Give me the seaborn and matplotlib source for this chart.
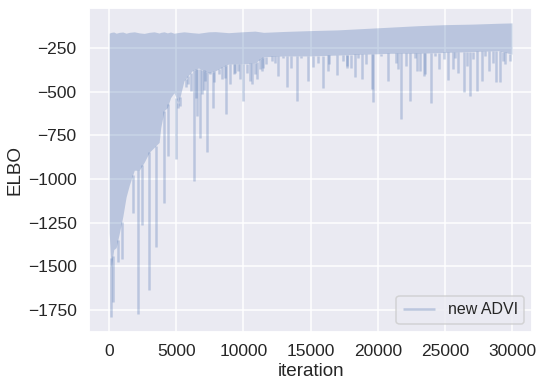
import numpy as np
import pandas as pd
import matplotlib
matplotlib.use("Agg")
import matplotlib.pyplot as plt
import seaborn as sns

# dense part of the ELBO trace: upper edge and lower edge of the solid band
band_iter = [0, 140, 340, 520, 760, 1010, 1260, 1500, 1870, 2240, 2610, 2980, 3350,
             3720, 3840, 4090, 4330, 4570, 4830, 5150, 5570, 6180, 6650, 7410, 7910,
             8890, 9880, 10860, 11500, 13000, 15000, 17000, 19000, 21000, 23000,
             25000, 27000, 29000, 30000]
band_low = [-1307, -1506, -1403, -1392, -1307, -1216, -1102, -1034, -949, -949, -903,
            -847, -818, -790, -705, -608, -591, -534, -506, -568, -438, -380, -364,
            -392, -380, -341, -341, -335, -300, -295, -295, -290, -285, -280, -280,
            -275, -270, -265, -285]
band_high = [-165, -160, -158, -165, -160, -158, -165, -160, -157, -163, -166, -160,
             -157, -164, -160, -157, -163, -158, -165, -161, -157, -162, -165, -157,
             -156, -162, -157, -153, -160, -155, -150, -146, -138, -130, -122, -116,
             -113, -108, -106]

# downward spikes of the trace
spike_iter = [100, 270, 640, 930, 1740, 2110, 2460, 2980, 3470, 4090, 4410, 4970,
              5120, 5270, 5690, 5870, 6060, 6300, 6430, 6550, 6750, 6920, 7040, 7170,
              7270, 7540, 7710, 7780, 8150, 8400, 8650, 8720, 9010, 9260, 9380, 9620,
              9750, 10000, 10250, 10490, 10660, 10860, 10990, 11230, 11400, 11480,
              11700, 12100, 12340, 12580, 12960, 13250, 13570, 14010, 14310, 14800,
              15200, 15540, 15900, 16300, 16400, 17000, 17390, 17690, 17700, 18000,
              18320, 18500, 18820, 19120, 19600, 19680, 20230, 20790, 21330, 21500,
              21730, 22070, 22440, 22810, 22900, 23180, 23420, 23550, 23960, 24290,
              24600, 24900, 25270, 25600, 25770, 26000, 26420, 26630, 26870, 27120,
              27390, 27730, 27990, 28270, 28600, 28840, 29090, 29340, 29500, 29830]
spike_elbo = [-1790, -1705, -1477, -1455, -1193, -1773, -1261, -1636, -1386, -1136,
              -869, -886, -591, -580, -475, -455, -494, -1011, -534, -636, -767, -511,
              -489, -438, -847, -400, -591, -447, -398, -426, -419, -625, -455, -400,
              -392, -380, -428, -551, -390, -438, -455, -400, -426, -370, -380, -362,
              -341, -324, -333, -409, -305, -472, -362, -551, -305, -438, -360, -333,
              -477, -380, -343, -403, -324, -352, -364, -362, -415, -305, -426, -343,
              -483, -557, -295, -438, -333, -370, -655, -352, -551, -305, -380, -380,
              -409, -400, -562, -295, -370, -314, -432, -367, -305, -390, -500, -352,
              -523, -314, -494, -438, -295, -380, -333, -443, -443, -324, -341, -324]

xticks = [0, 5000, 10000, 15000, 20000, 25000, 30000]
yticks = [-1750, -1500, -1250, -1000, -750, -500, -250]

sns.set_theme(context="talk", style="darkgrid", font_scale=1.05)
plt.rcParams["font.family"] = ["Liberation Sans", "DejaVu Sans"]

fig = plt.figure(figsize=(543 / 72, 390 / 72), dpi=72)
ax = fig.add_axes([0.164, 0.149, 0.816, 0.830])

blue = sns.color_palette()[0]

# solid band of the trace
ax.fill_between(band_iter, band_low, band_high, color=blue, alpha=0.3, lw=0)

# spikes start where the band ends
spike_base = np.interp(spike_iter, band_iter, band_low)
spikes = pd.DataFrame({
    "iteration": np.repeat(spike_iter, 2),
    "elbo": np.column_stack([spike_base, spike_elbo]).ravel(),
    "spike": np.repeat(np.arange(len(spike_iter)), 2),
})
sns.lineplot(data=spikes, x="iteration", y="elbo", units="spike", estimator=None,
             color=blue, alpha=0.3, lw=2.5, solid_capstyle="butt",
             label="new ADVI", ax=ax)

ax.set_xticks(xticks)
ax.set_yticks(yticks)
ax.set_xlabel("iteration")
ax.set_ylabel("ELBO")

handles, labels = ax.get_legend_handles_labels()
ax.legend(handles[:1], labels[:1], loc="lower right", fontsize=16)

fig.savefig("out.png", dpi=72)
